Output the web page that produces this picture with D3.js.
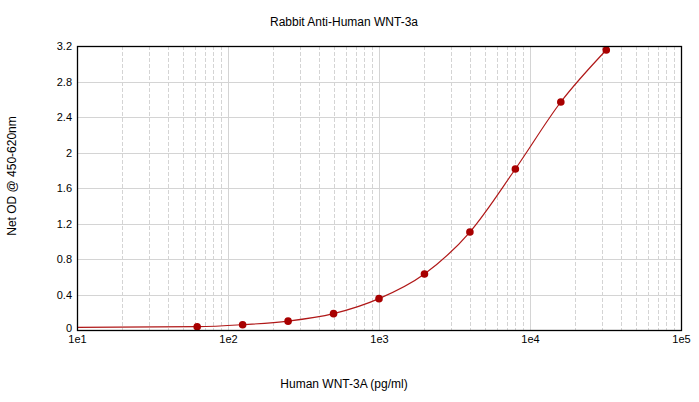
<!DOCTYPE html>
<html>
<head>
<meta charset="utf-8">
<script src="https://cdn.jsdelivr.net/npm/d3@7"></script>
<style>
    body { margin: 0; background: #fff; }
    text { font-family: Arial, "Liberation Sans", sans-serif; fill: #000; }
</style>
</head>
<body>
<svg id="chart" width="699" height="402"></svg>
<script>
// Standard curve data
const concentrations = [62.5, 125, 250, 500, 1000, 2000, 4000, 8000, 16000, 32000];
const netOD = [0.037, 0.06, 0.10, 0.184, 0.353, 0.631, 1.104, 1.814, 2.569, 3.155];
// fitted curve starts at left edge of the axis
const fitStart = { x: 10, y: 0.03 };
const yTicks = [0, 0.4, 0.8, 1.2, 1.6, 2, 2.4, 2.8, 3.2];
const xDecades = [10, 100, 1000, 10000, 100000];
const xTickLabels = ['1e1', '1e2', '1e3', '1e4', '1e5'];

const svg = d3.select('#chart');
const margin = { top: 46, right: 18, bottom: 72, left: 77 };
const width = 699 - margin.left - margin.right;
const height = 402 - margin.top - margin.bottom;

const x = d3.scaleLog().domain([10, 100000]).range([0, width]);
const y = d3.scaleLinear().domain([0, 3.2]).range([height, 0]);

const g = svg.append('g').attr('transform', `translate(${margin.left},${margin.top})`);

// Minor x grid (dashed)
const minors = [];
xDecades.slice(0, -1).forEach(d => {
    for (let k = 2; k <= 9; k++) minors.push(d * k);
});
g.append('g').selectAll('line')
    .data(minors)
    .enter()
    .append('line')
    .attr('x1', d => Math.round(x(d)) + 0.5)
    .attr('x2', d => Math.round(x(d)) + 0.5)
    .attr('y1', 0)
    .attr('y2', height)
    .attr('stroke', '#d4d4d4')
    .attr('stroke-dasharray', '4,2');

// Major x grid
g.append('g').selectAll('line')
    .data(xDecades)
    .enter()
    .append('line')
    .attr('x1', d => Math.round(x(d)) + 0.5)
    .attr('x2', d => Math.round(x(d)) + 0.5)
    .attr('y1', 0)
    .attr('y2', height)
    .attr('stroke', '#d4d4d4');

// Y grid
g.append('g').selectAll('line')
    .data(yTicks)
    .enter()
    .append('line')
    .attr('x1', 0)
    .attr('x2', width)
    .attr('y1', d => Math.round(y(d)) + 0.5)
    .attr('y2', d => Math.round(y(d)) + 0.5)
    .attr('stroke', '#d4d4d4');

// Fitted curve
const curvePts = [[fitStart.x, fitStart.y]].concat(concentrations.map((c, i) => [c, netOD[i]]));
g.append('path')
    .datum(curvePts)
    .attr('fill', 'none')
    .attr('stroke', '#b01818')
    .attr('stroke-width', 1.2)
    .attr('d', d3.line()
        .x(d => x(d[0]))
        .y(d => y(d[1]))
        .curve(d3.curveMonotoneX));

// Points
g.append('g').selectAll('circle')
    .data(concentrations)
    .enter()
    .append('circle')
    .attr('cx', d => x(d))
    .attr('cy', (d, i) => y(netOD[i]))
    .attr('r', 3.8)
    .attr('fill', '#a80000');

// Frame
g.append('rect')
    .attr('x', 0.5)
    .attr('y', 0.5)
    .attr('width', width)
    .attr('height', height)
    .attr('fill', 'none')
    .attr('stroke', '#000')
    .attr('stroke-width', 1.3);

// Y axis labels
const yAxis = d3.axisLeft(y).tickValues(yTicks).tickSize(0).tickPadding(5)
    .tickFormat(d => d3.format('')(+d.toFixed(1)));
g.append('g').call(yAxis)
    .call(s => s.select('.domain').remove())
    .selectAll('text')
    .attr('font-size', '11px')
    .style('font-family', 'Arial, "Liberation Sans", sans-serif')
    .attr('dy', d => d === 0 ? '0.1em' : '0.32em');

// X axis labels
const xAxis = d3.axisBottom(x).tickValues(xDecades).tickSize(0).tickPadding(5)
    .tickFormat((d, i) => xTickLabels[i]);
g.append('g').attr('transform', `translate(0,${height})`).call(xAxis)
    .call(s => s.select('.domain').remove())
    .selectAll('text')
    .attr('font-size', '11px')
    .style('font-family', 'Arial, "Liberation Sans", sans-serif');

// Titles
svg.append('text')
    .attr('x', 344)
    .attr('y', 26)
    .attr('text-anchor', 'middle')
    .attr('font-size', '12px')
    .text('Rabbit Anti-Human WNT-3a');

svg.append('text')
    .attr('x', 344)
    .attr('y', 388)
    .attr('text-anchor', 'middle')
    .attr('font-size', '12px')
    .text('Human WNT-3A (pg/ml)');

svg.append('text')
    .attr('transform', 'translate(16,176) rotate(-90)')
    .attr('text-anchor', 'middle')
    .attr('font-size', '12px')
    .text('Net OD @ 450-620nm');
</script>
</body>
</html>
